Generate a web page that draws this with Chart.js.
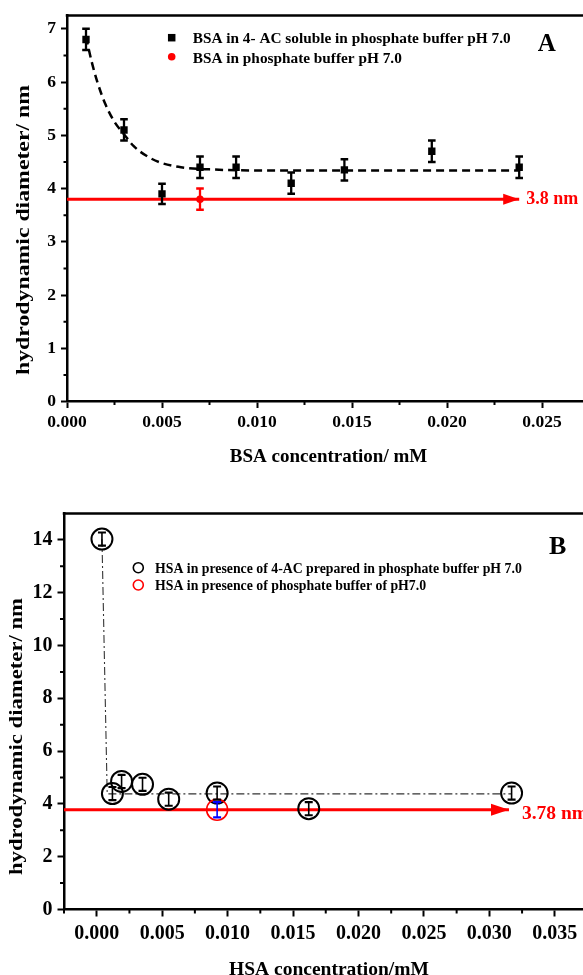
<!DOCTYPE html>
<html>
<head>
<meta charset="utf-8">
<script src="https://cdn.jsdelivr.net/npm/chart.js@4.4.1/dist/chart.umd.min.js"></script>
<style>
html,body{margin:0;padding:0;background:#ffffff;overflow:hidden;width:583px;height:975px;position:relative;}
.panel{position:absolute;left:0;width:600px;}
#panelA{top:0;height:475px;}
#panelB{top:490px;height:485px;}
</style>
</head>
<body>
<div class="panel" id="panelA"><canvas id="chartA"></canvas></div>
<div class="panel" id="panelB"><canvas id="chartB"></canvas></div>
<script>
// ---------- Panel A (BSA) ----------
const bsaConc     = [0.0010, 0.0030, 0.0050, 0.0070, 0.0089, 0.0118, 0.0146, 0.0192, 0.0238];
const bsaAcDiam   = [6.80, 5.10, 3.90, 4.40, 4.40, 4.10, 4.35, 4.70, 4.40];
const bsaAcErr    = [0.20, 0.20, 0.19, 0.20, 0.20, 0.20, 0.20, 0.20, 0.20];
const bsaBufConc  = [0.0070];
const bsaBufDiam  = [3.80];
const bsaBufErr   = [0.20];
const bsaFitConc  = [0.0010, 0.0013, 0.0016, 0.0020, 0.0025, 0.0030, 0.0035, 0.0042, 0.0049, 0.0060, 0.0075, 0.0100, 0.0238];
const bsaFitDiam  = [6.85, 6.38, 6.00, 5.60, 5.25, 5.02, 4.80, 4.61, 4.49, 4.40, 4.36, 4.34, 4.34];
const bsaRefConc  = [0.0000, 0.0238];
const bsaRefDiam  = [3.80, 3.80];
const bsaXTicks   = [0.000, 0.005, 0.010, 0.015, 0.020, 0.025];
const bsaXMinor   = [0.0025, 0.0075, 0.0125, 0.0175, 0.0225];
const bsaYTicks   = [0, 1, 2, 3, 4, 5, 6, 7];
const bsaYMinor   = [0.5, 1.5, 2.5, 3.5, 4.5, 5.5, 6.5];
const bsaLegend   = ['BSA in 4- AC soluble in phosphate buffer pH 7.0', 'BSA in phosphate buffer pH 7.0'];
const bsaRefLabel = '3.8 nm';
const bsaXTitle   = 'BSA concentration/ mM';
const bsaYTitle   = 'hydrodynamic diameter/ nm';

// ---------- Panel B (HSA) ----------
const hsaConc     = [0.0004, 0.0012, 0.0019, 0.0035, 0.0055, 0.0092, 0.0162, 0.0317];
const hsaAcDiam   = [14.03, 4.39, 4.85, 4.74, 4.18, 4.41, 3.82, 4.41];
const hsaAcErr    = [0.25, 0.25, 0.25, 0.25, 0.25, 0.25, 0.25, 0.25];
const hsaBufConc  = [0.0092];
const hsaBufDiam  = [3.78];
const hsaBufErr   = [0.29];
const hsaFitConc  = [0.0004, 0.0008, 0.0317];
const hsaFitDiam  = [14.03, 4.38, 4.38];
const hsaRefConc  = [-0.0025, 0.0315];
const hsaRefDiam  = [3.78, 3.78];
const hsaXTicks   = [0.000, 0.005, 0.010, 0.015, 0.020, 0.025, 0.030, 0.035];
const hsaXMinor   = [-0.0025, 0.0025, 0.0075, 0.0125, 0.0175, 0.0225, 0.0275, 0.0325];
const hsaYTicks   = [0, 2, 4, 6, 8, 10, 12, 14];
const hsaYMinor   = [1, 3, 5, 7, 9, 11, 13];
const hsaLegend   = ['HSA in presence of 4-AC prepared in phosphate buffer pH 7.0', 'HSA in presence of phosphate buffer of pH7.0'];
const hsaRefLabel = '3.78 nm';
const hsaXTitle   = 'HSA concentration/mM';
const hsaYTitle   = 'hydrodynamic diameter/ nm';

const SERIF = '"Liberation Serif", "Times New Roman", serif';
const pts = (xs, ys) => xs.map((x, i) => ({x: x, y: ys[i]}));
const bf = (s) => 'bold ' + s + 'px ' + SERIF;
const fmt3 = (v) => Number(v).toFixed(3);
const fmt0 = (v) => String(Math.round(Number(v)));

function decor(o) {
  return {
    id: 'decor',
    afterDatasetsDraw(chart) {
      const ctx = chart.ctx, xs = chart.scales.x, ys = chart.scales.y;
      chart.data.datasets.forEach((ds) => {
        if (!ds.errorBars) return;
        ctx.save();
        ctx.strokeStyle = ds.errorColor;
        ctx.lineCap = 'butt';
        ds.data.forEach((p, j) => {
          const e = ds.errorBars[j];
          const x = xs.getPixelForValue(p.x);
          const y1 = ys.getPixelForValue(p.y + e), y2 = ys.getPixelForValue(p.y - e);
          ctx.lineWidth = o.ebWidth;
          ctx.beginPath();
          ctx.moveTo(x, y1); ctx.lineTo(x, y2);
          ctx.stroke();
          ctx.lineWidth = o.capWidth;
          ctx.beginPath();
          ctx.moveTo(x - o.cap, y1); ctx.lineTo(x + o.cap, y1);
          ctx.moveTo(x - o.cap, y2); ctx.lineTo(x + o.cap, y2);
          ctx.stroke();
        });
        ctx.restore();
      });
    },
    afterDraw(chart) {
      const ctx = chart.ctx, a = chart.chartArea, xs = chart.scales.x, ys = chart.scales.y;
      ctx.save();
      // top frame line
      ctx.strokeStyle = '#000';
      ctx.lineWidth = o.frameWidth;
      ctx.beginPath();
      ctx.moveTo(a.left - o.frameWidth / 2, a.top);
      ctx.lineTo(a.right + 20, a.top);
      ctx.stroke();
      // minor ticks
      ctx.lineWidth = o.tickWidth;
      ctx.beginPath();
      o.xMinor.forEach(v => { const px = xs.getPixelForValue(v); ctx.moveTo(px, a.bottom); ctx.lineTo(px, a.bottom + o.minorLen); });
      o.yMinor.forEach(v => { const py = ys.getPixelForValue(v); ctx.moveTo(a.left, py); ctx.lineTo(a.left - o.minorLen, py); });
      ctx.stroke();
      // arrow head + label on reference line
      const meta = chart.getDatasetMeta(o.arrowIndex);
      const last = meta.data[meta.data.length - 1];
      const tx = last.x, ty = last.y;
      ctx.fillStyle = o.arrowColor;
      ctx.beginPath();
      ctx.moveTo(tx, ty);
      ctx.lineTo(tx - o.arrowLen, ty - o.arrowHalf);
      ctx.lineTo(tx - o.arrowLen, ty + o.arrowHalf);
      ctx.closePath();
      ctx.fill();
      ctx.font = bf(o.refSize);
      ctx.textAlign = 'left';
      ctx.textBaseline = 'alphabetic';
      ctx.fillText(o.refLabel, tx + o.refGap, ty + o.refDy);
      // legend
      o.legend.forEach(it => {
        if (it.marker === 'rect') {
          ctx.fillStyle = it.color;
          ctx.fillRect(it.mx - it.size / 2, it.my - it.size / 2, it.size, it.size);
        } else if (it.marker === 'dot') {
          ctx.fillStyle = it.color;
          ctx.beginPath(); ctx.arc(it.mx, it.my, it.size, 0, Math.PI * 2); ctx.fill();
        } else {
          ctx.strokeStyle = it.color; ctx.lineWidth = 1.6;
          ctx.beginPath(); ctx.arc(it.mx, it.my, it.size, 0, Math.PI * 2); ctx.stroke();
        }
        ctx.fillStyle = '#000';
        ctx.font = bf(o.legendSize);
        ctx.textAlign = 'left';
        ctx.fillText(it.text, it.tx, it.ty);
      });
      // panel letter
      ctx.fillStyle = '#000';
      ctx.font = bf(o.letter.size);
      ctx.textAlign = 'center';
      ctx.fillText(o.letter.text, o.letter.x, o.letter.y);
      // x title
      ctx.font = bf(o.xTitle.size);
      ctx.fillText(o.xTitle.text, o.xTitle.x, o.xTitle.y);
      // y title (rotated, stretched along its length)
      ctx.font = bf(o.yTitle.size);
      const w = ctx.measureText(o.yTitle.text).width;
      ctx.translate(o.yTitle.x, o.yTitle.y);
      ctx.rotate(-Math.PI / 2);
      ctx.scale(o.yTitle.len / w, 1);
      ctx.textAlign = 'center';
      ctx.fillText(o.yTitle.text, 0, 0);
      ctx.restore();
    }
  };
}

function axisCommon(size, tickLen, pad, fmt) {
  return {
    type: 'linear',
    ticks: { autoSkip: false, maxRotation: 0, padding: pad, color: '#000', callback: fmt,
             font: { family: SERIF, size: size, weight: 'bold' } },
    grid: { drawOnChartArea: false, drawTicks: true, tickLength: tickLen, tickWidth: 2, tickColor: '#000' },
    border: { display: true, color: '#000', width: 2.5 },
    title: { display: false }
  };
}

// ---------- Chart A ----------
const axA = axisCommon(17.5, 6.5, 4, fmt3);
const ayA = axisCommon(17.5, 6, 5, fmt0);
new Chart(document.getElementById('chartA'), {
  type: 'scatter',
  data: {
    datasets: [
      { label: 'fit', data: pts(bsaFitConc, bsaFitDiam), showLine: true, borderColor: '#000', borderWidth: 2.5,
        borderDash: [8, 5], pointRadius: 0, cubicInterpolationMode: 'monotone', tension: 0.4, fill: false, order: 3 },
      { label: 'ref', data: pts(bsaRefConc, bsaRefDiam), showLine: true, borderColor: '#ff0000', borderWidth: 3,
        pointRadius: 0, fill: false, order: 4 },
      { label: bsaLegend[0], data: pts(bsaConc, bsaAcDiam), pointStyle: 'rect', pointRadius: 5.2,
        backgroundColor: '#000', borderColor: '#000', borderWidth: 0, errorBars: bsaAcErr, errorColor: '#000', order: 1 },
      { label: bsaLegend[1], data: pts(bsaBufConc, bsaBufDiam), pointStyle: 'circle', pointRadius: 3.8,
        backgroundColor: '#ff0000', borderColor: '#ff0000', borderWidth: 0, errorBars: bsaBufErr, errorColor: '#ff0000', order: 0 }
    ]
  },
  options: {
    responsive: true, maintainAspectRatio: false, animation: false,
    layout: { padding: { top: 14.6, right: 10.5, bottom: 0, left: 0 } },
    plugins: { legend: { display: false }, tooltip: { enabled: false } },
    scales: {
      x: Object.assign(axA, { position: 'bottom', min: 0, max: 0.0275,
        afterBuildTicks: s => { s.ticks = bsaXTicks.map(v => ({ value: v })); },
        afterFit: s => { s.height = 73.5; } }),
      y: Object.assign(ayA, { position: 'left', min: 0, max: 7.25,
        afterBuildTicks: s => { s.ticks = bsaYTicks.map(v => ({ value: v })); },
        afterFit: s => { s.width = 67; } })
    }
  },
  plugins: [decor({
    ebWidth: 2.3, capWidth: 2.5, cap: 3.8, frameWidth: 2.5, tickWidth: 2, minorLen: 3.5,
    xMinor: bsaXMinor, yMinor: bsaYMinor,
    arrowIndex: 1, arrowColor: '#ff0000', arrowLen: 16, arrowHalf: 5.5,
    refLabel: bsaRefLabel, refSize: 18, refGap: 7, refDy: 5,
    legendSize: 15.3,
    legend: [
      { marker: 'rect', color: '#000', size: 7.5, mx: 171.7, my: 37.7, text: bsaLegend[0], tx: 192.7, ty: 43.3 },
      { marker: 'dot', color: '#ff0000', size: 3.8, mx: 171.7, my: 56.7, text: bsaLegend[1], tx: 192.7, ty: 62.7 }
    ],
    letter: { text: 'A', size: 25, x: 546.7, y: 50.7 },
    xTitle: { text: bsaXTitle, size: 19, x: 328.5, y: 462 },
    yTitle: { text: bsaYTitle, size: 18, x: 29, y: 230, len: 290 }
  })]
});

// ---------- Chart B ----------
const axB = axisCommon(20, 7, 5, fmt3);
const ayB = axisCommon(20, 6.5, 5, fmt0);
new Chart(document.getElementById('chartB'), {
  type: 'scatter',
  data: {
    datasets: [
      { label: 'fit', data: pts(hsaFitConc, hsaFitDiam), showLine: true, borderColor: '#333', borderWidth: 1.1,
        borderDash: [8, 3, 2, 3], pointRadius: 0, fill: false, order: 3 },
      { label: 'ref', data: pts(hsaRefConc, hsaRefDiam), showLine: true, borderColor: '#ff0000', borderWidth: 3,
        pointRadius: 0, fill: false, order: 4 },
      { label: hsaLegend[0], data: pts(hsaConc, hsaAcDiam), pointStyle: 'circle', pointRadius: 10.5,
        backgroundColor: 'rgba(0,0,0,0)', borderColor: '#000', borderWidth: 2, errorBars: hsaAcErr, errorColor: '#000', order: 1 },
      { label: hsaLegend[1], data: pts(hsaBufConc, hsaBufDiam), pointStyle: 'circle', pointRadius: 10.5,
        backgroundColor: 'rgba(0,0,0,0)', borderColor: '#ff0000', borderWidth: 1.6, errorBars: hsaBufErr, errorColor: '#0000ff', order: 0 }
    ]
  },
  options: {
    responsive: true, maintainAspectRatio: false, animation: false,
    layout: { padding: { top: 23.5, right: 7.2, bottom: 0, left: 0 } },
    plugins: { legend: { display: false }, tooltip: { enabled: false } },
    scales: {
      x: Object.assign(axB, { position: 'bottom', min: -0.0025, max: 0.0375,
        afterBuildTicks: s => { s.ticks = hsaXTicks.map(v => ({ value: v })); },
        afterFit: s => { s.height = 65.5; } }),
      y: Object.assign(ayB, { position: 'left', min: 0, max: 15,
        afterBuildTicks: s => { s.ticks = hsaYTicks.map(v => ({ value: v })); },
        afterFit: s => { s.width = 64; } })
    }
  },
  plugins: [decor({
    ebWidth: 1.6, capWidth: 2.2, cap: 4, frameWidth: 2.5, tickWidth: 2, minorLen: 4,
    xMinor: hsaXMinor, yMinor: hsaYMinor,
    arrowIndex: 1, arrowColor: '#ff0000', arrowLen: 18, arrowHalf: 6,
    refLabel: hsaRefLabel, refSize: 19.5, refGap: 13, refDy: 9,
    legendSize: 13.8,
    legend: [
      { marker: 'ring', color: '#000', size: 5, mx: 138.3, my: 77.7, text: hsaLegend[0], tx: 155, ty: 82.7 },
      { marker: 'ring', color: '#ff0000', size: 5, mx: 138.3, my: 95, text: hsaLegend[1], tx: 155, ty: 100 }
    ],
    letter: { text: 'B', size: 26, x: 557.7, y: 64 },
    xTitle: { text: hsaXTitle, size: 19.5, x: 329, y: 484.5 },
    yTitle: { text: hsaYTitle, size: 18, x: 22, y: 246.5, len: 277 }
  })]
});
</script>
</body>
</html>
